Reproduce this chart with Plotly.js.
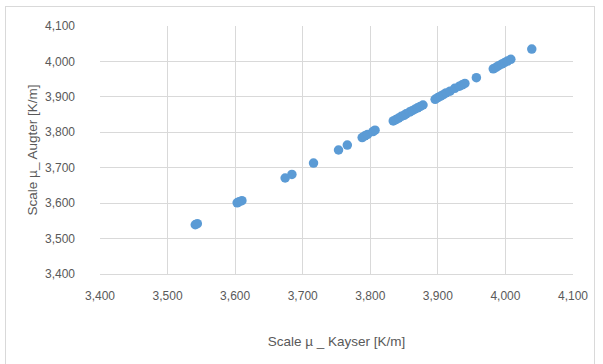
<!DOCTYPE html>
<html>
<head>
<meta charset="utf-8">
<script src="https://cdn.plot.ly/plotly-3.0.1.min.js"></script>
<style>
  html, body { margin: 0; padding: 0; background: #ffffff; }
  #wrap { position: relative; width: 603px; height: 364px; overflow: hidden; }
  #chart { position: absolute; left: 0; top: 0; width: 603px; height: 364px; }
  #frame { position: absolute; left: 5px; top: 6px; width: 588px; height: 400px;
           border: 1px solid #d9d9d9; pointer-events: none; }
</style>
</head>
<body>
<div id="wrap">
  <div id="chart"></div>
  <div id="frame"></div>
</div>
<script>
// Scale µ (Kayser) vs Scale µ (Augter), K/m
const kayser = [3541, 3544, 3603, 3606, 3610, 3674, 3684, 3716, 3753, 3766,
                3788, 3792, 3796, 3804, 3807, 3834, 3838, 3842, 3846, 3850,
                3853, 3858, 3862, 3866, 3870, 3874, 3878, 3896, 3900, 3904,
                3908, 3912, 3918, 3925, 3932, 3936, 3940, 3957, 3982, 3986,
                3990, 3995, 3999, 4003, 4008, 4039];
const augter = [3539, 3542, 3601, 3604, 3607, 3671, 3681, 3713, 3750, 3764,
                3785, 3790, 3794, 3802, 3806, 3832, 3836, 3840, 3845, 3848,
                3852, 3857, 3861, 3865, 3869, 3873, 3877, 3893, 3898, 3902,
                3906, 3911, 3916, 3924, 3930, 3934, 3938, 3954, 3979, 3983,
                3988, 3993, 3997, 4001, 4006, 4035];
const tickVals = [3400, 3500, 3600, 3700, 3800, 3900, 4000, 4100];
const tickText = ["3,400", "3,500", "3,600", "3,700", "3,800", "3,900", "4,000", "4,100"];
const xTitle = "Scale µ _ Kayser [K/m]";
const yTitle = "Scale µ_ Augter [K/m]";

const fontFam = "Liberation Sans, Arial, sans-serif";

const trace = {
  x: kayser,
  y: augter,
  type: "scatter",
  mode: "markers",
  marker: { color: "#5b9bd5", size: 9.5, line: { width: 0 } },
  hoverinfo: "x+y"
};

const axisCommon = {
  range: [3400, 4100],
  tickmode: "array",
  tickvals: tickVals,
  ticktext: tickText,
  showgrid: true,
  gridcolor: "#d9d9d9",
  gridwidth: 1,
  zeroline: false,
  ticks: "",
  tickfont: { family: fontFam, size: 12, color: "#595959" },
  fixedrange: true
};

const layout = {
  width: 603,
  height: 364,
  margin: { l: 100, r: 30, t: 26, b: 90 },
  paper_bgcolor: "#ffffff",
  plot_bgcolor: "#ffffff",
  showlegend: false,
  font: { family: fontFam, color: "#595959" },
  xaxis: Object.assign({}, axisCommon, {
    showline: true,
    linecolor: "#d9d9d9",
    linewidth: 1,
    ticklabelstandoff: 11,
    title: { text: xTitle, font: { family: fontFam, size: 13.5, color: "#595959" }, standoff: 34 },
    automargin: false
  }),
  yaxis: Object.assign({}, axisCommon, {
    showline: false,
    ticklabelstandoff: 24,
    title: { text: yTitle, font: { family: fontFam, size: 13.5, color: "#595959" }, standoff: 4 },
    automargin: false
  })
};

Plotly.newPlot("chart", [trace], layout, { displayModeBar: false, staticPlot: true });
</script>
</body>
</html>
